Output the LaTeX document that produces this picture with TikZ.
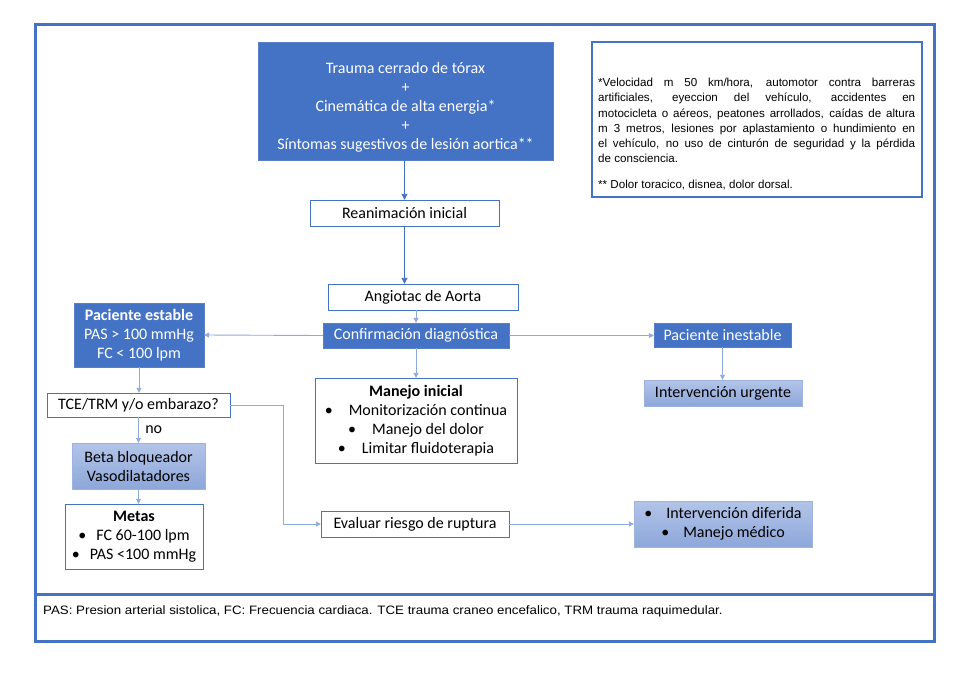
\documentclass[tikz,border=0pt]{standalone}
\usepackage{fontspec}
\usepackage{graphicx}
\setmainfont{Carlito}
\newfontfamily\notefont{Liberation Sans}
\usetikzlibrary{arrows.meta}

\definecolor{ofblue}{HTML}{4472C4}
\definecolor{edgeblue}{HTML}{5B7FC7}
\definecolor{softblue}{HTML}{8FAADC}
\definecolor{shadetop}{HTML}{B3C4E8}
\definecolor{shadebot}{HTML}{8DA7DA}
\definecolor{shadeedge}{HTML}{9FB3DF}

\tikzset{
  boxfont/.style={font=\fontsize{16}{19}\selectfont},
  darkbox/.style={boxfont, draw=edgeblue, fill=ofblue, text=white, align=center, inner sep=0pt},
  linebox/.style={boxfont, draw=ofblue, fill=white, align=center, inner sep=0pt},
  shadebox/.style={boxfont, draw=shadeedge, top color=shadetop, bottom color=shadebot, align=center, inner sep=0pt},
  flow/.style={draw=ofblue, line width=0.9pt, -{Triangle[length=6pt,width=6pt]}},
  softflow/.style={draw=softblue, line width=0.9pt, -{Triangle[length=5pt,width=5pt]}},
  frame/.style={draw=ofblue, line width=3pt}
}

\begin{document}
\begin{tikzpicture}[x=1pt,y=-1pt]
\useasboundingbox (0,0) rectangle (974,678);
\draw[frame] (35,24) rectangle (934,641);
\draw[frame] (35,594) -- (934,594);

\node[darkbox, minimum width=295, minimum height=118] (trauma) at (405.5,101) {};
\node[boxfont, text=white, align=center, inner sep=0pt] (traumatxt) at (405.5,107)
  {Trauma cerrado de tórax\\+\\Cinemática de alta energia*\\+\\Síntomas sugestivos de lesión aortica**};

\node[draw=ofblue, line width=1.5pt, minimum width=330, minimum height=155] (note) at (757,119.5) {};
\node[anchor=north west, inner sep=0pt, text width=317pt, align=justify,
      font=\notefont\fontsize{11.6}{15.2}\selectfont] (notetxt) at (598,78)
  {*Velocidad m 50 km/hora, automotor contra barreras\linebreak
   artificiales, eyeccion del vehículo, accidentes en\linebreak
   motocicleta o aéreos, peatones arrollados, caídas de altura\linebreak
   m 3 metros, lesiones por aplastamiento o hundimiento en\linebreak
   el vehículo, no uso de cinturón de seguridad y la pérdida\linebreak
   de consciencia.\par\vspace{10.5pt}
   ** Dolor toracico, disnea, dolor dorsal.};

\node[linebox, minimum width=189, minimum height=26] (reanim) at (404.5,213) {Reanimación inicial};
\node[linebox, minimum width=190, minimum height=26] (angio) at (423,297) {Angiotac de Aorta};
\node[darkbox, minimum width=186, minimum height=25] (confirm) at (416,335.5) {\raisebox{-2pt}{Confirmación diagnóstica}};
\node[darkbox, minimum width=137, minimum height=24] (inestable) at (722.5,335) {\raisebox{-1.5pt}{Paciente inestable}};
\node[shadebox, minimum width=158, minimum height=26] (urgente) at (723,393) {\raisebox{-1.5pt}{Intervención urgente}};
\node[linebox, minimum width=202, minimum height=85] (manejo) at (416,420.5)
  {\textbf{Manejo inicial}\\
   \textbullet\hspace{16pt}Monitorización continua\\
   \textbullet\hspace{16pt}Manejo del dolor\\
   \textbullet\hspace{16pt}Limitar fluidoterapia};
\node[darkbox, minimum width=130, minimum height=64] (estable) at (139,335)
  {\textbf{Paciente estable}\\PAS > 100 mmHg\\FC < 100 lpm};
\node[linebox, minimum width=183, minimum height=24] (tce) at (138.5,405) {TCE/TRM y/o embarazo?};
\node[shadebox, minimum width=133, minimum height=46] (beta) at (138.5,466) {Beta bloqueador\\Vasodilatadores};
\node[linebox, minimum width=138, minimum height=65] (metas) at (134,536.5)
  {\textbf{Metas}\\
   \textbullet\hspace{10pt}FC 60-100 lpm\\
   \textbullet\hspace{10pt}PAS <100 mmHg};
\node[linebox, minimum width=188, minimum height=26] (evaluar) at (415,524) {Evaluar riesgo de ruptura};
\node[shadebox, minimum width=178, minimum height=46] (diferida) at (723,524)
  {\textbullet\hspace{14pt}Intervención diferida\\
   \textbullet\hspace{14pt}Manejo médico};

\coordinate (bend) at (283,405);

\draw[flow] (trauma.south -| reanim.north) -- (reanim.north);
\draw[flow] (reanim.south) -- (reanim.south |- angio.north);
\draw[softflow] (angio.south -| confirm.north) -- (confirm.north);
\draw[softflow] (confirm.west) -- (estable.east);
\draw[softflow] (confirm.east) -- (inestable.west |- confirm.east);
\draw[softflow] (confirm.south) -- (manejo.north);
\draw[softflow] (inestable.south) -- (inestable.south |- urgente.north);
\draw[softflow] (estable.south) -- (estable.south |- tce.north);
\draw[softflow] (tce.south) -- node[right, boxfont, xshift=3pt] {no} (tce.south |- beta.north);
\draw[softflow] (beta.south) -- (beta.south |- metas.north);
\draw[softflow] (tce.east) -- (bend) |- (evaluar.west);
\draw[softflow] (evaluar.east) -- (diferida.west);

\node[anchor=west, inner sep=0pt, font=\notefont\fontsize{12.2}{14}\selectfont] (footer) at (43,611)
  {\scalebox{1.09}[1]{PAS: Presion arterial sistolica, FC: Frecuencia cardiaca. TCE trauma craneo encefalico, TRM trauma raquimedular.}};
\end{tikzpicture}
\end{document}
